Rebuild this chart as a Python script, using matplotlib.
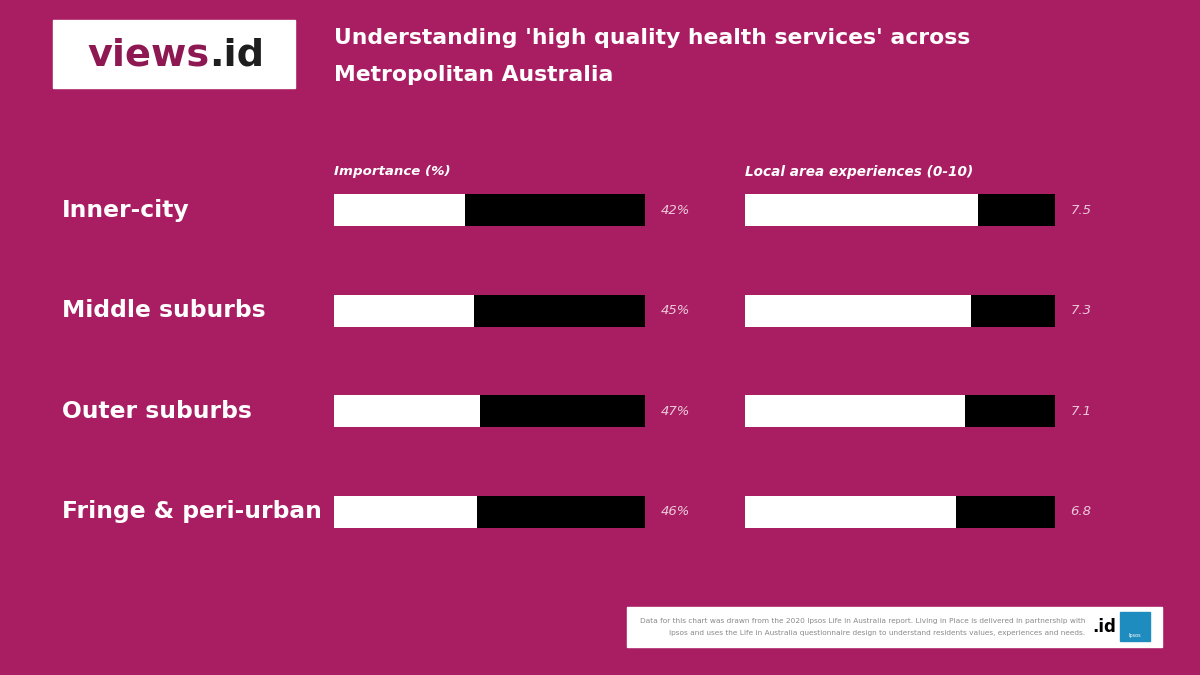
import matplotlib
matplotlib.use("Agg")
import matplotlib.pyplot as plt
from matplotlib.patches import Rectangle
from matplotlib.transforms import blended_transform_factory

categories = ["Inner-city", "Middle suburbs", "Outer suburbs", "Fringe & peri-urban"]
importance = [42, 45, 47, 46]
importance_labels = ["42%", "45%", "47%", "46%"]
experience = [7.5, 7.3, 7.1, 6.8]
experience_labels = ["7.5", "7.3", "7.1", "6.8"]

BG = "#A91E63"
W, H = 1200, 675


def fx(px):
    return px / W


def fy(py):
    return 1 - py / H


fig = plt.figure(figsize=(12, 6.75), dpi=100, facecolor=BG)

# zones des barres en pixels
top_px, bot_px = 160, 562
ax1 = fig.add_axes([fx(334), fy(bot_px), fx(645) - fx(334), fy(top_px) - fy(bot_px)])
ax2 = fig.add_axes([fx(745), fy(bot_px), fx(1055) - fx(745), fy(top_px) - fy(bot_px)])

ypos = list(range(len(categories)))
for ax, vals, vmax, labels in [(ax1, importance, 100, importance_labels),
                               (ax2, experience, 10, experience_labels)]:
    ax.set_facecolor("none")
    ax.barh(ypos, [vmax] * len(vals), height=0.32, color="black")
    ax.barh(ypos, vals, height=0.32, color="white")
    ax.set_xlim(0, vmax)
    ax.set_ylim(len(categories) - 0.5, -0.5)
    ax.axis("off")
    tr = blended_transform_factory(ax.transAxes, ax.transData)
    for y, lab in zip(ypos, labels):
        ax.text(1.05, y, lab, transform=tr, ha="left", va="center",
                fontsize=9.5, style="italic", color="#EBC9DA")

# libellés des catégories
trc = blended_transform_factory(fig.transFigure, ax1.transData)
for y, cat in zip(ypos, categories):
    fig.text(fx(62), y, cat, transform=trc, ha="left", va="center",
             fontsize=16.8, fontweight="bold", color="white")

# en-têtes de colonnes
fig.text(fx(334), fy(172), "Importance (%)", ha="left", va="center",
         fontsize=9.6, fontweight="bold", style="italic", color="white")
fig.text(fx(745), fy(172), "Local area experiences (0-10)", ha="left", va="center",
         fontsize=9.8, fontweight="bold", style="italic", color="white")

# titre
fig.text(fx(334), fy(38), "Understanding 'high quality health services' across",
         ha="left", va="center", fontsize=15.75, fontweight="bold", color="white")
fig.text(fx(334), fy(75), "Metropolitan Australia",
         ha="left", va="center", fontsize=15.75, fontweight="bold", color="white")

# logo
fig.patches.append(Rectangle((fx(53), fy(88)), fx(295) - fx(53), fy(20) - fy(88),
                             transform=fig.transFigure, color="white", zorder=0))
t1 = fig.text(fx(87), fy(56), "views", ha="left", va="center",
              fontsize=27.5, fontweight="bold", color="#8E1852")
fig.canvas.draw()
bb = t1.get_window_extent()
fig.text(bb.x1 / W, fy(56), ".id", ha="left", va="center",
         fontsize=27.5, fontweight="bold", color="#1E1E1E")

# pied de page
fig.patches.append(Rectangle((fx(627), fy(647)), fx(1162) - fx(627), fy(607) - fy(647),
                             transform=fig.transFigure, color="white", zorder=0))
fig.text(fx(1085), fy(621),
         "Data for this chart was drawn from the 2020 Ipsos Life in Australia report. "
         "Living in Place is delivered in partnership with",
         ha="right", va="center", fontsize=5.3, color="#8A8A8A")
fig.text(fx(1085), fy(633),
         "Ipsos and uses the Life in Australia questionnaire design to understand "
         "residents values, experiences and needs.",
         ha="right", va="center", fontsize=5.3, color="#8A8A8A")
fig.text(fx(1092), fy(627), ".id", ha="left", va="center",
         fontsize=12, fontweight="bold", color="black")
fig.patches.append(Rectangle((fx(1120), fy(641)), fx(1150) - fx(1120), fy(612) - fy(641),
                             transform=fig.transFigure, color="#1F8CC0", zorder=1))
fig.text(fx(1135), fy(635), "Ipsos", ha="center", va="center",
         fontsize=3.5, color="white", zorder=2)

fig.savefig("out.png", dpi=100, facecolor=BG)
